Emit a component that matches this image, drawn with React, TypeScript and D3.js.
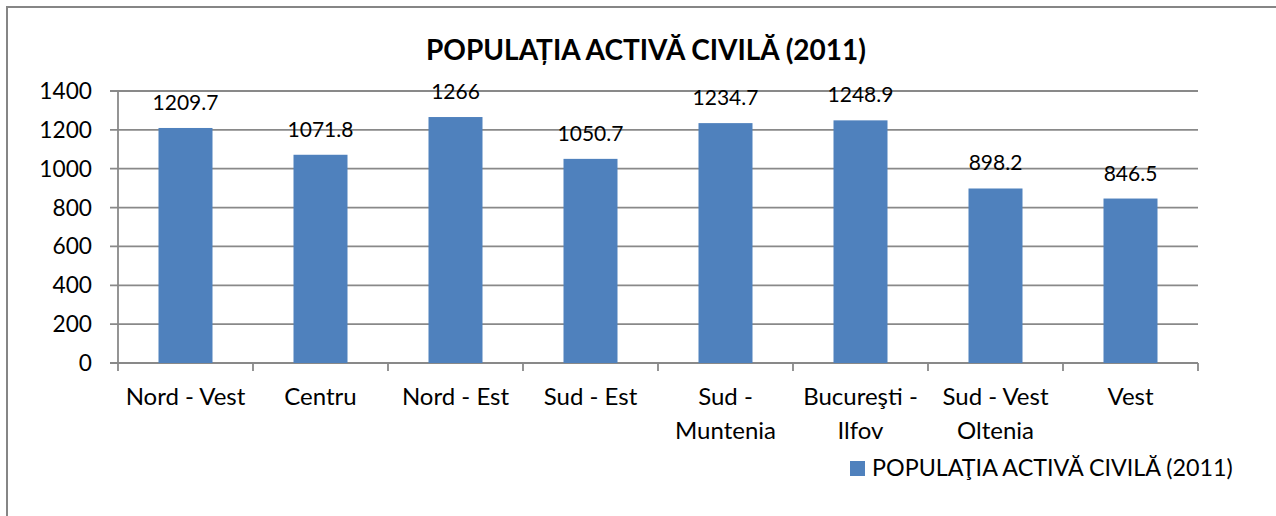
import React from "react";
import * as d3 from "d3";

const categories: string[][] = [
  ["Nord - Vest"],
  ["Centru"],
  ["Nord - Est"],
  ["Sud - Est"],
  ["Sud -", "Muntenia"],
  ["Bucureşti -", "Ilfov"],
  ["Sud - Vest", "Oltenia"],
  ["Vest"],
];
const values: number[] = [1209.7, 1071.8, 1266, 1050.7, 1234.7, 1248.9, 898.2, 846.5];
const yTicks: number[] = [0, 200, 400, 600, 800, 1000, 1200, 1400];
const title = "POPULAȚIA ACTIVĂ CIVILĂ (2011)";
const legendLabel = "POPULAŢIA ACTIVĂ CIVILĂ (2011)";

const W = 1276;
const H = 516;
const plotLeft = 118;
const plotRight = 1198;
const plotTop = 91;
const plotBottom = 363;
const barColor = "#4F81BD";
const gridColor = "#898989";
const font = "Lato, 'Open Sans', sans-serif";

export default function App() {
  const keys = categories.map((c) => c.join(" "));
  const x = d3.scaleBand<string>().domain(keys).range([plotLeft, plotRight]).paddingInner(0.6).paddingOuter(0.3);
  const xb = d3.scaleBand<string>().domain(keys).range([plotLeft, plotRight]).padding(0);
  const y = d3.scaleLinear().domain([0, 1400]).range([plotBottom, plotTop]);

  return (
    <svg width={W} height={H} style={{ position: "absolute", left: 0, top: 0, background: "#fff" }}>
      <rect x={7} y={7} width={W + 20} height={H + 20} fill="#fff" stroke="#868686" strokeWidth={2} />
      <text x={646} y={60} textAnchor="middle" fontFamily={font} fontWeight="bold" fontSize={28} fill="#000">
        {title}
      </text>
      {yTicks.map((t) => (
        <g key={t}>
          <line x1={plotLeft - 8} x2={plotRight} y1={y(t)} y2={y(t)} stroke={gridColor} strokeWidth={1.8} />
          <text x={92} y={y(t) + 8} textAnchor="end" fontFamily={font} fontSize={22.7} fill="#000">
            {t}
          </text>
        </g>
      ))}
      <line x1={plotLeft} x2={plotLeft} y1={plotTop} y2={plotBottom} stroke={gridColor} strokeWidth={1.8} />
      {keys.map((k) => (
        <line key={"t" + k} x1={(xb(k) as number) + xb.bandwidth()} x2={(xb(k) as number) + xb.bandwidth()} y1={plotBottom} y2={plotBottom + 8} stroke={gridColor} strokeWidth={1.8} />
      ))}
      <line x1={plotLeft} x2={plotLeft} y1={plotBottom} y2={plotBottom + 8} stroke={gridColor} strokeWidth={1.8} />
      {values.map((v, i) => {
        const k = keys[i];
        const bx = x(k) as number;
        return (
          <g key={k}>
            <rect x={bx} y={y(v)} width={x.bandwidth()} height={plotBottom - y(v)} fill={barColor} />
            <text x={bx + x.bandwidth() / 2} y={y(v) - 18} textAnchor="middle" fontFamily={font} fontSize={21} fill="#000">
              {String(v)}
            </text>
          </g>
        );
      })}
      {categories.map((lines, i) => {
        const k = keys[i];
        const cx = (xb(k) as number) + xb.bandwidth() / 2;
        return (
          <text key={"c" + k} x={cx} y={405} textAnchor="middle" fontFamily={font} fontSize={24} fill="#000">
            {lines.map((l, j) => (
              <tspan key={j} x={cx} dy={j === 0 ? 0 : 34}>
                {l}
              </tspan>
            ))}
          </text>
        );
      })}
      <rect x={850} y={461} width={15} height={15} fill={barColor} />
      <text x={872} y={476} fontFamily={font} fontSize={23.3} fill="#000">
        {legendLabel}
      </text>
    </svg>
  );
}
